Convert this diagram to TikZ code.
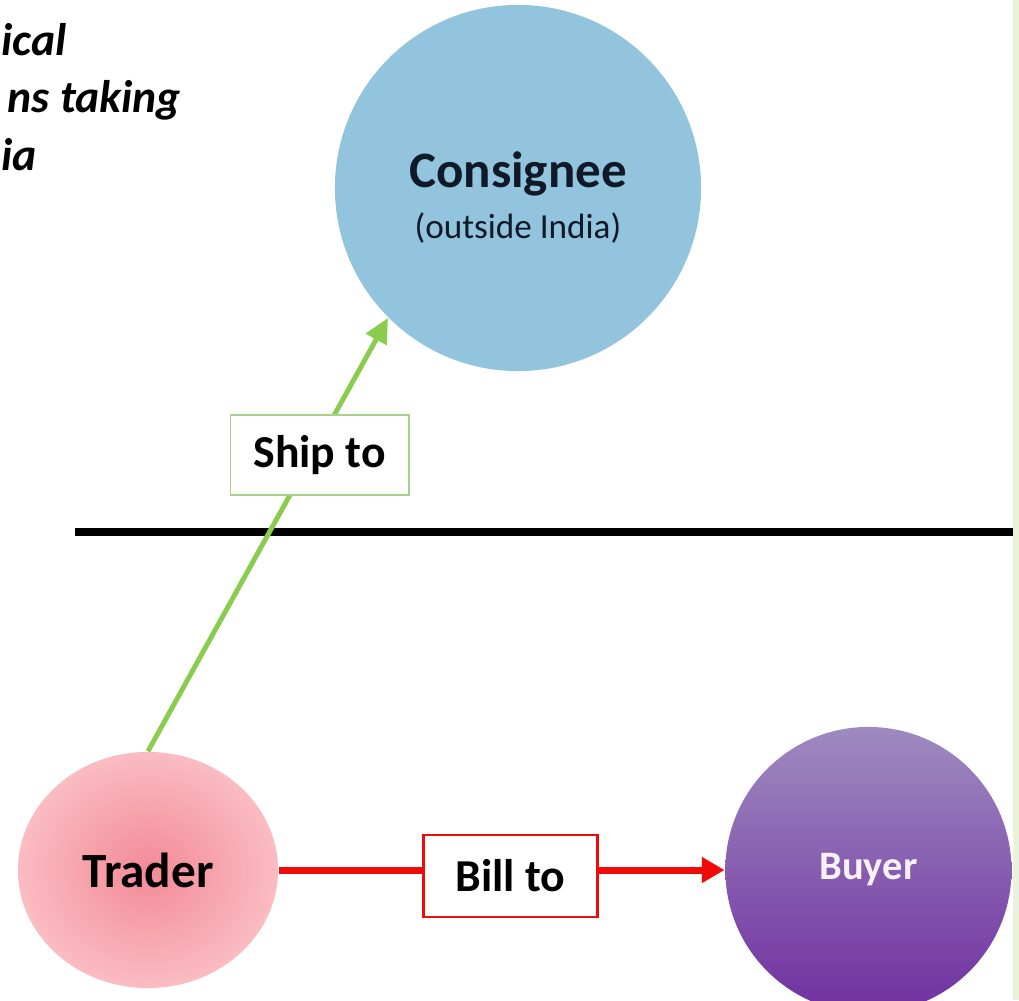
\documentclass[tikz,border=0pt]{standalone}
\usepackage{fontspec}
\setmainfont{Carlito}
\usepackage{tikz}
\usetikzlibrary{shapes,arrows,arrows.meta,positioning}

\definecolor{consblue}{RGB}{146,196,222}
\definecolor{consink}{RGB}{15,25,40}
\definecolor{traderin}{RGB}{243,138,150}
\definecolor{traderout}{RGB}{250,188,194}
\definecolor{buyertop}{RGB}{158,138,192}
\definecolor{buyerbot}{RGB}{112,48,160}
\definecolor{shipgreen}{RGB}{138,204,78}
\definecolor{shipedge}{RGB}{168,210,140}
\definecolor{billred}{RGB}{240,10,10}
\definecolor{bandgreen}{RGB}{234,241,221}

\begin{document}
\begin{tikzpicture}[x=0.01cm, y=-0.01cm]
    % Define styles
    \tikzstyle{party} = [draw=none, inner sep=0pt, text centered]
    \tikzstyle{tagbox} = [rectangle, draw, fill=white, text centered, inner sep=0pt, font=\fontsize{13}{15}\selectfont\bfseries]
    \tikzstyle{shiparrow} = [line width=1.4pt, shipgreen, -{Triangle[length=7pt,width=6.5pt]}]
    \tikzstyle{billarrow} = [line width=2pt, billred, -{Triangle[length=6.5pt,width=7pt]}]
    \tikzstyle{divider} = [line width=2.3pt, black]
    \tikzstyle{heading} = [anchor=base west, inner sep=0pt, font=\fontsize{13}{15}\selectfont\bfseries\itshape]

    \useasboundingbox (0,0) rectangle (1019,1000);
    \fill[bandgreen] (1013,0) rectangle (1019,1000);

    % Heading (cut off at the left)
    \node [heading] (head1) at (1,55) {ical};
    \node [heading] (head2) at (7,112) {ns taking};
    \node [heading] (head3) at (1,170) {ia};

    % Parties
    \node [party, circle, fill=consblue, minimum size=3.66cm] (consignee) at (518,188) {};
    \node [align=center, text=consink, font=\fontsize{10}{14.5}\selectfont, yshift=-2.6pt] (constext) at (consignee)
        {{\fontsize{14.5}{14.5}\selectfont\bfseries Consignee}\\(outside India)};
    \node [party, ellipse, shading=radial, inner color=traderin, outer color=traderout,
        minimum width=2.6cm, minimum height=2.36cm, font=\fontsize{14}{16}\selectfont\bfseries] (trader) at (148,870) {Trader};
    \node [party, circle, top color=buyertop, bottom color=buyerbot, minimum size=2.86cm,
        text={rgb,255:red,248;green,242;blue,248}, font=\fontsize{11.5}{14}\selectfont\bfseries,
        right of=trader, node distance=7.2cm] (buyer) {Buyer};

    % Border line
    \draw [divider] (75,532) -- (1013,532);

    % Arrows
    \draw [shiparrow] (trader.north) -- node [tagbox, draw=shipedge, line width=0.5pt, text=black,
        minimum width=1.78cm, minimum height=0.8cm, pos=0.69, xshift=1.7pt, yshift=-0.8pt] (shipto) {Ship to} (consignee.225);
    \draw [billarrow] (trader.east) -- node [tagbox, draw=billred, line width=0.7pt, text=black,
        minimum width=1.74cm, minimum height=0.82cm, pos=0.52, yshift=-1.7pt] (billto) {Bill to} (buyer.west);
\end{tikzpicture}
\end{document}
